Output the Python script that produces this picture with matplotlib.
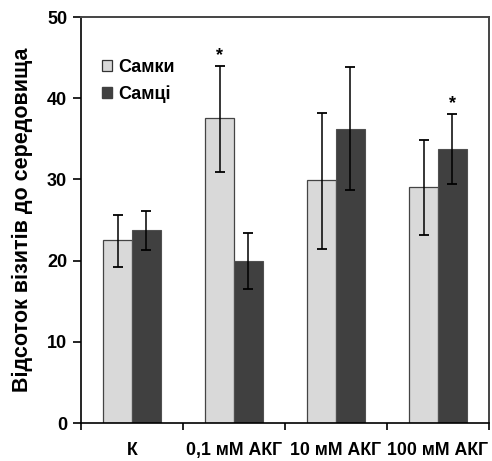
import matplotlib
matplotlib.use("Agg")
import matplotlib.pyplot as plt
import numpy as np
from matplotlib.patches import Patch

categories = ["К", "0,1 мМ АКГ", "10 мМ АКГ", "100 мМ АКГ"]
females = [22.5, 37.6, 29.9, 29.1]
females_lo = [19.2, 30.9, 21.4, 23.2]
females_hi = [25.6, 44.0, 38.2, 34.8]
males = [23.8, 20.0, 36.2, 33.8]
males_lo = [21.3, 16.5, 28.7, 29.4]
males_hi = [26.1, 23.4, 43.8, 38.1]
stars_f = [False, True, False, False]
stars_m = [False, False, False, True]
yticks = [0, 10, 20, 30, 40, 50]

plt.rcParams['font.family'] = ['Liberation Sans', 'DejaVu Sans']
plt.rcParams['font.weight'] = 'bold'

fig = plt.figure(figsize=(4.92, 4.61), dpi=100)
ax = fig.add_axes([0.1646, 0.0824, 0.8294, 0.8807])

x = np.arange(len(categories))
w = 0.28
fc = "#d9d9d9"
mc = "#404040"
ferr = [np.array(females) - np.array(females_lo), np.array(females_hi) - np.array(females)]
merr = [np.array(males) - np.array(males_lo), np.array(males_hi) - np.array(males)]
ax.bar(x - w/2, females, w, color=fc, edgecolor="#444444", linewidth=0.9, zorder=2)
ax.bar(x + w/2, males, w, color=mc, edgecolor="#505050", linewidth=0.8, zorder=2)
ax.errorbar(x - w/2, females, yerr=ferr, fmt="none", ecolor="black", elinewidth=1.1, capsize=3.3, capthick=1.3, zorder=3)
ax.errorbar(x + w/2, males, yerr=merr, fmt="none", ecolor="black", elinewidth=1.1, capsize=3.3, capthick=1.3, zorder=3)

for i in range(len(categories)):
    if stars_f[i]:
        ax.text(x[i] - w/2, females_hi[i] + 0.2, "*", ha="center", va="bottom", fontsize=13, fontweight="bold")
    if stars_m[i]:
        ax.text(x[i] + w/2, males_hi[i] + 0.2, "*", ha="center", va="bottom", fontsize=13, fontweight="bold")

ax.set_xlim(-0.5, len(categories) - 0.5)
ax.set_ylim(0, 50)
ax.set_yticks(yticks)
ax.set_yticklabels([str(t) for t in yticks], fontsize=13, fontweight="bold")
ax.set_xticks(np.arange(len(categories) + 1) - 0.5)
ax.set_xticklabels([])
ax.set_xticks(x, minor=True)
ax.set_xticklabels(categories, minor=True, fontsize=12.8, fontweight="bold")
ax.tick_params(axis="x", which="minor", length=0, pad=13.5)
ax.tick_params(axis="x", which="major", length=5, direction="out", width=1.2)
ax.tick_params(axis="y", length=6, direction="out", width=1.2, pad=4)

for s in ["top", "right"]:
    ax.spines[s].set_color("#444444")
    ax.spines[s].set_linewidth(1.4)
for s in ["left", "bottom"]:
    ax.spines[s].set_color("black")
    ax.spines[s].set_linewidth(1.2)

ax.set_ylabel("Відсоток візитів до середовища", fontsize=15.5, fontweight="bold", labelpad=10)

handles = [Patch(facecolor=fc, edgecolor="#333333", linewidth=0.9, label="Самки"),
           Patch(facecolor=mc, edgecolor=mc, label="Самці")]
leg = ax.legend(handles=handles, loc="upper left", bbox_to_anchor=(0.035, 0.915), frameon=False,
                handlelength=0.55, handleheight=0.55, handletextpad=0.3, labelspacing=0.5,
                borderaxespad=0, prop={"weight": "bold", "size": 13})

fig.savefig("out.png", dpi=100)
